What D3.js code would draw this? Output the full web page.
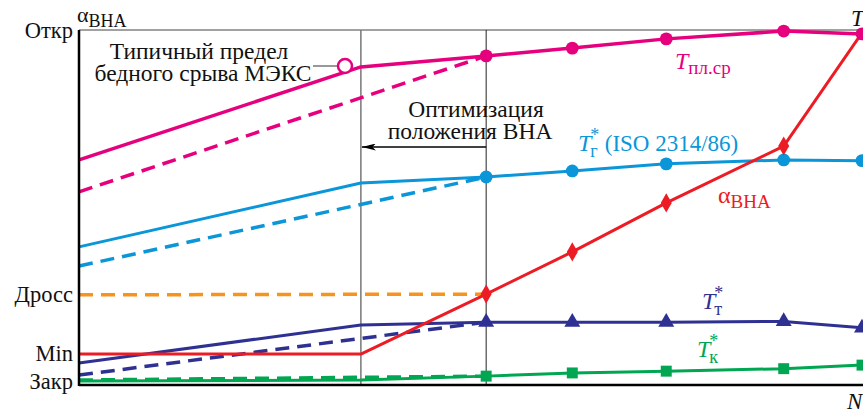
<!DOCTYPE html>
<html>
<head>
<meta charset="utf-8">
<script src="https://cdn.jsdelivr.net/npm/d3@7"></script>
<style>
  body { margin: 0; background: #fff; }
  text { font-family: "Liberation Serif", "DejaVu Serif", serif; }
</style>
</head>
<body>
<div id="container"></div>
<script>
var width = 863, height = 414;

// положение по оси N (условные единицы)
var nPoints = [0, 36, 52, 63, 75, 90, 100];
var nDashed = [0, 52];

// положение ВНА, отметки оси
var tickNames = ["Закр", "Min", "Дросс", "Откр"];
var tickValues = [1, 9, 25.5, 100];

// серии (условные единицы)
var tPl = [63.4, 89.6, 92.7, 94.9, 97.5, 99.7, 98.9];
var tPlDash = [54.4, 92.7];
var tG = [38.9, 56.9, 58.6, 60.3, 62.3, 63.4, 63.2];
var tGDash = [33.5, 58.6];
var alpha = [8.7, 8.7, 25.6, 37.5, 51.3, 67.3, 99.2];
var dross = [25.4, 25.6];
var tT = [6.2, 16.9, 17.7, 17.7, 17.7, 17.9, 16.1];
var tTDash = [2.8, 17.7];
var tK = [1.1, 1.4, 2.5, 3.4, 3.9, 4.6, 5.6];
var tKDash = [1.4, 2.5];

var svg = d3.select("#container").append("svg")
    .attr("width", width)
    .attr("height", height);

var x = d3.scaleLinear().domain([0, 100]).range([79, 862]);
var y = d3.scaleLinear().domain([0, 100]).range([385, 30]);

var line = d3.line()
    .x(function(d) { return x(d[0]); })
    .y(function(d) { return y(d[1]); });

// рамка: верхняя линия и вертикали
svg.append("line").attr("x1", x(0)).attr("x2", width).attr("y1", y(100)).attr("y2", y(100))
    .attr("stroke", "#444").attr("stroke-width", 1);
svg.append("line").attr("x1", x(36)).attr("x2", x(36)).attr("y1", y(100)).attr("y2", y(0))
    .attr("stroke", "#777").attr("stroke-width", 1.5);
svg.append("line").attr("x1", x(52)).attr("x2", x(52)).attr("y1", y(100)).attr("y2", y(0))
    .attr("stroke", "#222").attr("stroke-width", 1);

function zip(xs, ys) {
    return xs.map(function(v, i) { return [v, ys[i]]; });
}

function drawSeries(vals, color, w) {
    svg.append("path").attr("d", line(zip(nPoints, vals)))
        .attr("fill", "none").attr("stroke", color).attr("stroke-width", w)
        .attr("stroke-linejoin", "round");
}
function drawDash(vals, color) {
    svg.append("path").attr("d", line(zip(nDashed, vals)))
        .attr("fill", "none").attr("stroke", color).attr("stroke-width", 3.5)
        .attr("stroke-dasharray", "14,8");
}

var pink = "#e6007e", blue = "#0a96d8", red = "#ed1c24",
    orange = "#f7941d", navy = "#2e3192", green = "#00a651";

drawDash(tKDash, green);
drawDash(dross, orange);
drawDash(tPlDash, pink);
drawDash(tGDash, blue);
drawDash(tTDash, navy);

drawSeries(tK, green, 3);
drawSeries(tT, navy, 3);
drawSeries(tG, blue, 3);
drawSeries(tPl, pink, 3.5);
drawSeries(alpha, red, 3);

// маркеры
function markers(vals, color, type, size) {
    var sym = d3.symbol().type(type).size(size);
    svg.selectAll(null).data(zip(nPoints, vals).slice(2)).enter()
        .append("path")
        .attr("d", sym)
        .attr("transform", function(d) { return "translate(" + x(d[0]) + "," + y(d[1]) + ")"; })
        .attr("fill", color);
}
markers(tPl, pink, d3.symbolCircle, 130);
markers(tG, blue, d3.symbolCircle, 130);
markers(tT, navy, d3.symbolTriangle, 110);
markers(tK, green, d3.symbolSquare, 120);
var diamond = d3.symbol().type(d3.symbolDiamond).size(105);
svg.selectAll(null).data(zip(nPoints, alpha).slice(2, 6)).enter()
    .append("path").attr("d", diamond)
    .attr("transform", function(d) { return "translate(" + x(d[0]) + "," + y(d[1]) + ")"; })
    .attr("fill", red);

// оси
svg.append("line").attr("x1", x(0)).attr("x2", x(0)).attr("y1", y(100)).attr("y2", y(0) + 1)
    .attr("stroke", "#000").attr("stroke-width", 2.5);
svg.append("line").attr("x1", x(0)).attr("x2", width).attr("y1", y(0)).attr("y2", y(0))
    .attr("stroke", "#000").attr("stroke-width", 2.5);

var yAxis = d3.axisLeft(y).tickValues(tickValues)
    .tickFormat(function(d, i) { return tickNames[i]; })
    .tickSize(0).tickPadding(6);
var ga = svg.append("g").attr("transform", "translate(" + x(0) + ",0)").call(yAxis);
ga.select(".domain").remove();
ga.selectAll("text").style("font-family", "Liberation Serif").style("font-size", "22.5px")
    .attr("fill", "#111");

// подписи осей
var ax = svg.append("text").attr("x", 77).attr("y", 22).attr("font-size", 22).attr("fill", "#111");
ax.append("tspan").text("α");
ax.append("tspan").attr("dy", 5).attr("font-size", 18).text("ВНА");
svg.append("text").attr("x", 851).attr("y", 26).attr("font-size", 23)
    .attr("font-style", "italic").attr("fill", "#111").text("T");
svg.append("text").attr("x", 847).attr("y", 409).attr("font-size", 23)
    .attr("font-style", "italic").attr("fill", "#111").text("N");

// аннотация МЭКС
var ann = svg.append("text").attr("text-anchor", "middle").attr("font-size", 23.5).attr("fill", "#111");
ann.append("tspan").attr("x", 199).attr("y", 59).text("Типичный предел");
ann.append("tspan").attr("x", 203).attr("y", 81).text("бедного срыва МЭКС");
svg.append("line").attr("x1", 313).attr("x2", 337).attr("y1", 66).attr("y2", 66)
    .attr("stroke", "#333").attr("stroke-width", 1);
svg.append("circle").attr("cx", 345).attr("cy", 66).attr("r", 7)
    .attr("fill", "#fff").attr("stroke", pink).attr("stroke-width", 2.5);

// аннотация оптимизации
var opt = svg.append("text").attr("text-anchor", "middle").attr("font-size", 23.5).attr("fill", "#111");
opt.append("tspan").attr("x", 476).attr("y", 117).text("Оптимизация");
opt.append("tspan").attr("x", 470).attr("y", 139).text("положения ВНА");
svg.append("defs").append("marker").attr("id", "arr")
    .attr("viewBox", "0 0 12 6").attr("refX", 12).attr("refY", 3)
    .attr("markerUnits", "userSpaceOnUse")
    .attr("markerWidth", 14).attr("markerHeight", 7).attr("orient", "auto")
    .append("path").attr("d", "M12,3 L0,0 L3,3 L0,6 Z").attr("fill", "#000");
svg.append("line").attr("x1", x(52)).attr("x2", x(36) + 1).attr("y1", 147).attr("y2", 147)
    .attr("stroke", "#000").attr("stroke-width", 1.3).attr("marker-end", "url(#arr)");

// подписи серий
function seriesLabel(px, py, main, sub, color, star, italic) {
    var t = svg.append("text").attr("x", px).attr("y", py).attr("font-size", 24).attr("fill", color);
    t.append("tspan").attr("font-style", italic ? "italic" : "normal").text(main);
    if (star) {
        t.append("tspan").attr("dx", -1).attr("dy", -10).attr("font-size", 18).text("*");
        t.append("tspan").attr("dx", -9).attr("dy", 16).attr("font-size", 18).text(sub);
    } else {
        t.append("tspan").attr("dy", 5).attr("font-size", 19).text(sub);
    }
    return t;
}
seriesLabel(675, 69, "T", "пл.ср", pink, false, true);
var lg = seriesLabel(578, 151, "T", "г", blue, true, true);
lg.append("tspan").attr("dy", -6).attr("dx", 7).attr("font-size", 23).text("(ISO 2314/86)");
seriesLabel(718, 203, "α", "ВНА", red, false, false);
seriesLabel(702, 309, "T", "т", navy, true, true);
seriesLabel(697, 357, "T", "к", green, true, true);
</script>
</body>
</html>
